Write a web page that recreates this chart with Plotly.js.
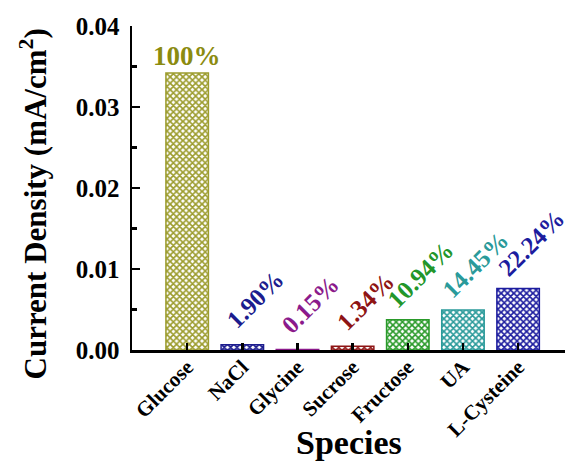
<!DOCTYPE html>
<html>
<head>
<meta charset="utf-8">
<script src="https://cdn.plot.ly/plotly-3.0.1.min.js"></script>
<style>html,body{margin:0;padding:0;background:#fff;}#chart{width:569px;height:463px;}</style>
</head>
<body>
<div id="chart"></div>
<script>
// Data
const species = ["Glucose", "NaCl", "Glycine", "Sucrose", "Fructose", "UA", "L-Cysteine"];
const currentDensity = [0.0342, 0.00065, 0.00005, 0.00046, 0.00374, 0.00494, 0.0076];
const percentLabels = ["100%", "1.90%", "0.15%", "1.34%", "10.94%", "14.45%", "22.24%"];
const barColors = ["#9c9c2e", "#1c1c8e", "#8b1a8b", "#8e1414", "#2a9a2a", "#2a9a9a", "#1c1c9e"];
const labelColors = ["#8b8b10", "#1c1c8e", "#8b1a8b", "#8e1414", "#22962a", "#2a9a9a", "#1c1c9e"];
const xTitle = "Species";
const yTitle = "Current Density (mA/cm<sup>2</sup>)";

const FONT = "'Liberation Serif', 'Times New Roman', serif";

const trace = {
  type: "bar",
  x: species,
  y: currentDensity,
  width: 0.77,
  marker: {
    color: barColors,
    line: {color: barColors, width: 1.5},
    pattern: {shape: "x", fgcolor: barColors, bgcolor: "white", size: 4.5, solidity: 0.6, fillmode: "replace"}
  },
  hoverinfo: "x+y"
};

const annotations = species.map((s, i) => {
  if (i === 0) {
    return {x: s, y: currentDensity[i], xref: "x", yref: "y", text: "<b>" + percentLabels[i] + "</b>",
      showarrow: false, xanchor: "center", yanchor: "bottom", yshift: 0,
      font: {family: FONT, size: 27, color: labelColors[i]}};
  }
  return {x: s, y: currentDensity[i], xref: "x", yref: "y", text: "<b>" + percentLabels[i] + "</b>",
    showarrow: false, textangle: -45, xanchor: "center", yanchor: "middle", xshift: 13, yshift: 45,
    font: {family: FONT, size: 25, color: labelColors[i]}};
});

annotations.push({
  xref: "paper", yref: "paper", x: -0.228, y: 0.45, text: "<b>" + yTitle + "</b>",
  showarrow: false, textangle: -90, xanchor: "center", yanchor: "middle",
  font: {family: FONT, size: 31, color: "black"}
});
annotations.push({
  xref: "paper", yref: "paper", x: 0.5, y: -0.347, text: "<b>" + xTitle + "</b>",
  showarrow: false, xanchor: "center", yanchor: "bottom", borderpad: 0,
  font: {family: FONT, size: 34, color: "black"}
});

const layout = {
  width: 569, height: 463,
  margin: {l: 132, r: 4, t: 26, b: 113},
  paper_bgcolor: "white", plot_bgcolor: "white",
  showlegend: false,
  font: {family: FONT, color: "black"},
  xaxis: {
    type: "category",
    range: [-1, 6.85],
    showline: true, linecolor: "black", linewidth: 2.5,
    ticks: "inside", ticklen: 7, tickwidth: 2.5, tickcolor: "black",
    tickangle: -45, ticklabelstandoff: -6,
    tickfont: {family: FONT, size: 21, color: "black", weight: "bold"},
    showgrid: false, zeroline: false
  },
  yaxis: {
    range: [0, 0.04],
    dtick: 0.01, tickformat: ".2f",
    showline: true, linecolor: "black", linewidth: 2.5,
    ticks: "inside", ticklen: 8, tickwidth: 2.5, tickcolor: "black",
    minor: {ticks: "inside", ticklen: 5, tickwidth: 2.5, tickcolor: "black", dtick: 0.005, showgrid: false},
    ticklabelstandoff: 5,
    tickfont: {family: FONT, size: 25, color: "black", weight: "bold"},
    showgrid: false, zeroline: false
  },
  annotations: annotations
};

Plotly.newPlot("chart", [trace], layout, {displayModeBar: false, staticPlot: true});
</script>
</body>
</html>
